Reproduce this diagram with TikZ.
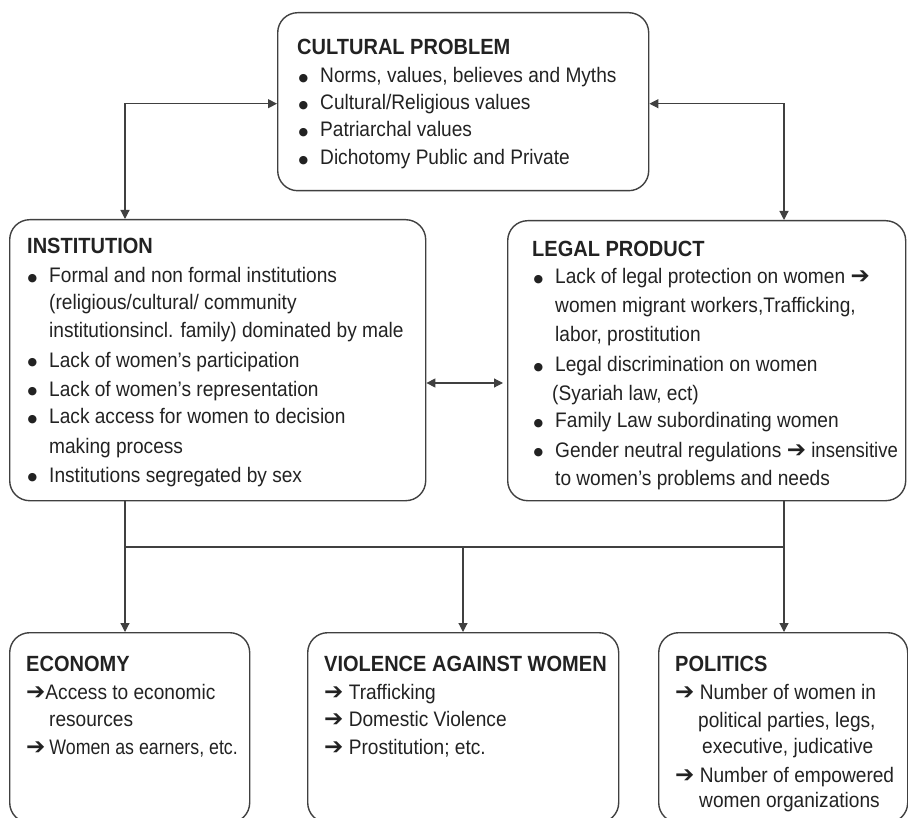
\documentclass[tikz,border=0pt]{standalone}
\usepackage{graphicx}
\usepackage{fontspec}
\setmainfont{Liberation Sans}[FakeStretch=0.91]
\newfontfamily\symf{DejaVu Sans}
\usetikzlibrary{arrows.meta}
\definecolor{ink}{HTML}{222222}
\definecolor{edge}{HTML}{404040}
\newcommand\rarr{{\symf\bfseries\fontsize{23}{23}\selectfont ➔}}
\newcommand\bull{\makebox[18pt][l]{\hspace{-3.5pt}\raisebox{1.8pt}{\symf\fontsize{11}{11}\selectfont ●}}}
\begin{document}
\begin{tikzpicture}[x=1pt,y=-1pt,
  box/.style={draw=edge, line width=1.4pt, rounded corners=20pt, inner sep=0pt, anchor=north west},
  txt/.style={anchor=base west, inner sep=0pt, text=ink, font=\fontsize{21}{25}\selectfont},
  ttl/.style={txt, font=\fontsize{22}{26}\selectfont\bfseries},
  conn/.style={draw=edge, line width=1.2pt},
  tipend/.style={-{Triangle[length=9pt,width=9pt]}},
  tipboth/.style={{Triangle[length=9pt,width=9pt]}-{Triangle[length=9pt,width=9pt]}}
]
\useasboundingbox (0,0) rectangle (908,818);

% boxes
\node[box, minimum width=371pt, minimum height=178pt] (cult) at (277,12) {};
\node[box, minimum width=416pt, minimum height=281pt] (inst) at (9,219) {};
\node[box, minimum width=398pt, minimum height=280pt] (legal) at (507,220) {};
\node[box, minimum width=240pt, minimum height=190pt] (econ) at (9,632) {};
\node[box, minimum width=311pt, minimum height=190pt] (viol) at (307,632) {};
\node[box, minimum width=249pt, minimum height=190pt] (pol) at (658,632) {};

% connectors
\coordinate (jl) at (125,547);
\coordinate (jm) at (463,547);
\coordinate (jr) at (784,547);
\coordinate (mid) at (466,383);
\draw[conn, tipboth] ([yshift=-2pt]cult.west) -| ([xshift=116pt]inst.north west);
\draw[conn, tipboth] ([yshift=-2pt]cult.east) -| ([xshift=277pt]legal.north west);
\draw[conn, tipboth, shorten >=4pt] (inst.east |- mid) -- (legal.west |- mid);
\draw[conn] (inst.south -| jl) -- (jl) -- (jr) -- (legal.south -| jr);
\draw[conn, tipend] (jl) -- (econ.north -| jl);
\draw[conn, tipend] (jm) -- (viol.north -| jm);
\draw[conn, tipend] (jr) -- (pol.north -| jr);

% cultural problem
\node[ttl] (c0) at (297,55) {CULTURAL PROBLEM};
\node[txt] (c1) at (302,83) {\bull Norms, values, believes and Myths};
\node[txt] (c2) at (302,110) {\bull Cultural/Religious values};
\node[txt] (c3) at (302,137) {\bull Patriarchal values};
\node[txt] (c4) at (302,165) {\bull Dichotomy Public and Private};

% institution
\node[ttl] (i0) at (27,254) {INSTITUTION};
\node[txt] (i1) at (31,283) {\bull Formal and non formal institutions};
\node[txt] (i2) at (49,310) {(religious/cultural/ community};
\node[txt] (i3) at (49,338) {institutionsincl. family) dominated by male};
\node[txt] (i4) at (31,367) {\bull Lack of women’s participation};
\node[txt] (i5) at (31,396) {\bull Lack of women’s representation};
\node[txt] (i6) at (31,424) {\bull Lack access for women to decision};
\node[txt] (i7) at (49,453) {making process};
\node[txt] (i8) at (31,482) {\bull Institutions segregated by sex};

% legal product
\node[ttl] (l0) at (532,257) {LEGAL PRODUCT};
\node[txt] (l1) at (537,284) {\bull Lack of legal protection on women \rarr};
\node[txt] (l2) at (555,313) {women migrant workers,Trafficking,};
\node[txt] (l3) at (555,342) {labor, prostitution};
\node[txt] (l4) at (537,372) {\bull Legal discrimination on women};
\node[txt] (l5) at (552,400) {(Syariah law, ect)};
\node[txt] (l6) at (537,428) {\bull Family Law subordinating women};
\node[txt] (l7) at (537,457) {\bull Gender neutral regulations \rarr\ \scalebox{0.97}[1]{insensitive}};
\node[txt] (l8) at (555,485) {to women’s problems and needs};

% economy
\node[ttl] (e0) at (26,671) {ECONOMY};
\node[txt] (e1) at (26,699) {\rarr Access to economic};
\node[txt] (e2) at (49,726) {resources};
\node[txt] (e3) at (26,754) {\rarr\hspace{4pt}\scalebox{0.93}[1]{Women as earners, etc.}};

% violence
\node[ttl] (v0) at (324,671) {VIOLENCE AGAINST WOMEN};
\node[txt] (v1) at (324,699) {\rarr\ Trafficking};
\node[txt] (v2) at (324,726) {\rarr\ Domestic Violence};
\node[txt] (v3) at (324,754) {\rarr\ Prostitution; etc.};

% politics
\node[ttl] (p0) at (675,671) {POLITICS};
\node[txt] (p1) at (675,699) {\rarr\ Number of women in};
\node[txt] (p2) at (698,727) {political parties, legs,};
\node[txt] (p3) at (702,753) {executive, judicative};
\node[txt] (p4) at (675,782) {\rarr\ Number of empowered};
\node[txt] (p5) at (699,807) {women organizations};
\end{tikzpicture}
\end{document}
